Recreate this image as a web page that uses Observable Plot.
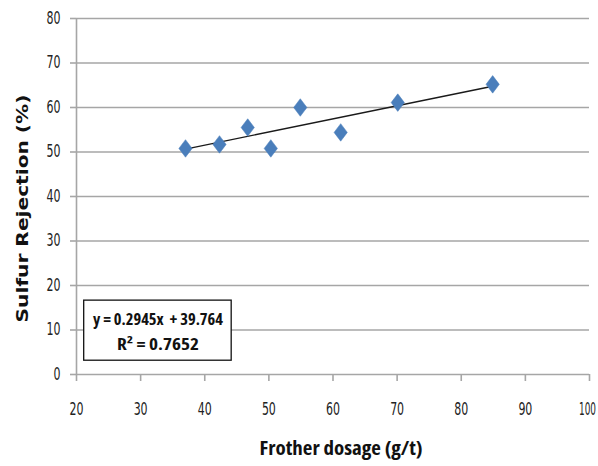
<!DOCTYPE html>
<html>
<head>
<meta charset="utf-8">
<script src="https://cdn.jsdelivr.net/npm/d3@7"></script>
<script src="https://cdn.jsdelivr.net/npm/@observablehq/plot@0.6"></script>
<style>
  html, body { margin: 0; padding: 0; background: #fff; }
  #chart { width: 598px; height: 466px; }
</style>
</head>
<body>
<div id="chart"></div>
<script>
// Data
const dosage = [37.0, 42.3, 46.7, 50.3, 54.9, 61.2, 70.1, 84.9];
const rejection = [50.8, 51.7, 55.5, 50.8, 60.0, 54.4, 61.1, 65.2];
const slope = 0.2945;
const intercept = 39.764;
const r2 = 0.7652;
const xTicks = [20, 30, 40, 50, 60, 70, 80, 90, 100];
const yTicks = [0, 10, 20, 30, 40, 50, 60, 70, 80];
const eqLines = ["y = 0.2945x  + 39.764", "R² = 0.7652"];
const eqWidths = [130, 82];
// equation box in data units (annotation)
const eqBox = {x1: 21.2, x2: 44.2, y1: 3.1, y2: 16.6};
const eqTextX = 32.7;
const eqTextY = [12.2, 6.6];

const points = dosage.map((d, i) => ({x: d, y: rejection[i]}));
const xmin = d3.min(dosage), xmax = d3.max(dosage);
const trend = [xmin, xmax].map(x => ({x, y: slope * x + intercept}));

const tickFont = "'DejaVu Sans Condensed', 'DejaVu Sans', sans-serif";
const grid = "#a6a6a6";

// taller-than-wide diamond marker
const tallDiamond = {
  draw(context, size) {
    const s = Math.sqrt(size);
    const h = s * 0.66, w = s * 0.5;
    context.moveTo(0, -h);
    context.lineTo(w, 0);
    context.lineTo(0, h);
    context.lineTo(-w, 0);
    context.closePath();
  }
};

const chart = Plot.plot({
  width: 598,
  height: 466,
  marginLeft: 76,
  marginRight: 9,
  marginTop: 18,
  marginBottom: 92,
  style: {fontFamily: tickFont, fontSize: "17px", color: "#222", background: "#fff", fontStretch: "condensed"},
  x: {domain: [20, 100], ticks: xTicks},
  y: {domain: [0, 80], ticks: yTicks},
  marks: [
    Plot.ruleY(yTicks, {stroke: grid, strokeWidth: 1.6}),
    Plot.ruleX([20], {stroke: grid, strokeWidth: 1.6}),
    Plot.axisY({ticks: yTicks, tickSize: 6, tickPadding: 10, stroke: grid, strokeWidth: 1.6,
      label: null, fontSize: 17}),
    Plot.axisX({ticks: xTicks, tickSize: 7, tickPadding: 21, stroke: grid, strokeWidth: 1.6,
      label: null, fontSize: 17}),
    Plot.text(["Sulfur Rejection (%)"], {frameAnchor: "left", rotate: -90, dx: -54, dy: 12,
      textAnchor: "middle",
      fontFamily: "'DejaVu Sans', sans-serif", fontWeight: "bold", fontSize: 16, fill: "#111"}),
    Plot.text(["Frother dosage (g/t)"], {frameAnchor: "bottom", dy: 80, dx: 8,
      fontFamily: "'Open Sans', sans-serif", fontWeight: "bold", fontSize: 19, fill: "#111"}),
    Plot.line(trend, {x: "x", y: "y", stroke: "#1a1a1a", strokeWidth: 1.4}),
    Plot.dot(points, {x: "x", y: "y", symbol: tallDiamond, r: 7.5, fill: "#4a7ebb", stroke: "#4a7ebb", strokeWidth: 0.5}),
    Plot.rect([eqBox], {x1: "x1", x2: "x2", y1: "y1", y2: "y2", fill: "#fff", stroke: "#111", strokeWidth: 1.3}),
    Plot.text(eqLines, {x: () => eqTextX, y: (d, i) => eqTextY[i], text: d => d,
      fontFamily: "'Open Sans', sans-serif", fontWeight: "bold", fontSize: 16, fill: "#111"})
  ]
});

// condense the Calibri-like texts to the reference widths
const tickLabels = new Set([...xTicks, ...yTicks].map(String));
d3.select(chart).selectAll("text").each(function () {
  const t = this.textContent;
  const sel = d3.select(this);
  const i = eqLines.indexOf(t);
  if (i >= 0) sel.attr("textLength", eqWidths[i]).attr("lengthAdjust", "spacingAndGlyphs");
  else if (t === "Frother dosage (g/t)") sel.attr("textLength", 163).attr("lengthAdjust", "spacingAndGlyphs");
  else if (t === "Sulfur Rejection (%)") sel.attr("textLength", 228).attr("lengthAdjust", "spacingAndGlyphs");
  else if (tickLabels.has(t)) {
    if (t.length > 2) sel.attr("textLength", 17).attr("dx", -2);
    else sel.attr("textLength", t.length * 7);
    sel.attr("lengthAdjust", "spacingAndGlyphs");
  }
});
document.getElementById("chart").appendChild(chart);
</script>
</body>
</html>
